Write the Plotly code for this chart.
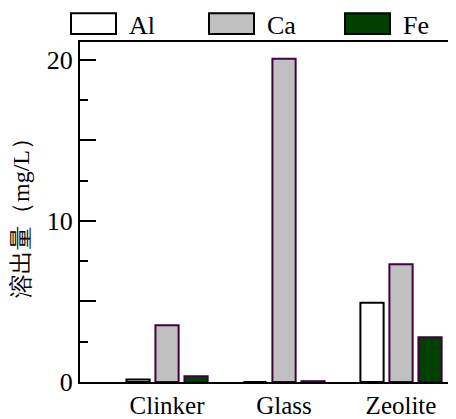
import plotly.graph_objects as go

categories = ["Clinker", "Glass", "Zeolite"]
al_values = [0.15, 0.0, 4.92]
ca_values = [3.52, 20.06, 7.3]
fe_values = [0.35, 0.05, 2.78]
series_names = ["Al", "Ca", "Fe"]
y_tickvals = [0, 5, 10, 15, 20]
y_ticktext = ["0", "", "10", "", "20"]

fills = ["#ffffff", "#c0c0c0", "#004000"]
outlines = ["#000000", "#400040", "#400040"]
serif = "Liberation Serif"

# the page body adds an 8px margin; compensate so window pixels match
OFF = 8
W, H = 456 - OFF, 419 - OFF
L, R, T, B = 80 - OFF, 456 - OFF, 42 - OFF, 384 - OFF

fig = go.Figure()
for name, vals, fc, lc in zip(series_names, [al_values, ca_values, fe_values], fills, outlines):
    fig.add_trace(go.Bar(x=categories, y=vals, name=name,
                         marker=dict(color=fc, line=dict(color=lc, width=2)),
                         showlegend=False))

def px_x(p): return (p - OFF - L) / (R - L)
def px_y(p): return (B - (p - OFF)) / (B - T)
box_left = [71, 209, 345]
for name, fc, x0 in zip(series_names, fills, box_left):
    fig.add_shape(type="rect", xref="paper", yref="paper",
                  x0=px_x(x0), x1=px_x(x0 + 45), y0=px_y(34), y1=px_y(13),
                  fillcolor=fc, line=dict(color="#000000", width=2))
    fig.add_annotation(xref="paper", yref="paper", x=px_x(x0 + 56), y=px_y(25),
                       text=name, showarrow=False, xanchor="left", yanchor="middle",
                       font=dict(family=serif, size=26, color="black"))

fig.update_layout(
    width=W, height=H,
    margin=dict(l=L, r=W - R, t=T, b=H - B),
    paper_bgcolor="white", plot_bgcolor="white",
    barmode="group", bargap=0.256, bargroupgap=0.2,
)
fig.update_xaxes(range=[-0.744, 2.47], showline=True, mirror=True,
                 linecolor="black", linewidth=2, ticks="", showgrid=False,
                 tickfont=dict(family=serif, size=25, color="black"))
fig.update_yaxes(range=[0, 21.1], tickvals=y_tickvals, ticktext=y_ticktext,
                 ticks="inside", ticklen=16, tickwidth=2, tickcolor="black",
                 minor=dict(ticks="inside", ticklen=8, tickwidth=2, dtick=2.5, tickcolor="black"),
                 showline=True, linecolor="black", linewidth=2, showgrid=False,
                 zeroline=False,
                 tickfont=dict(family=serif, size=26, color="black"),
                 title=dict(text="溶出量（mg/L）",
                            font=dict(family=serif, size=24, color="black"),
                            standoff=10))

fig.write_html("out.html")
